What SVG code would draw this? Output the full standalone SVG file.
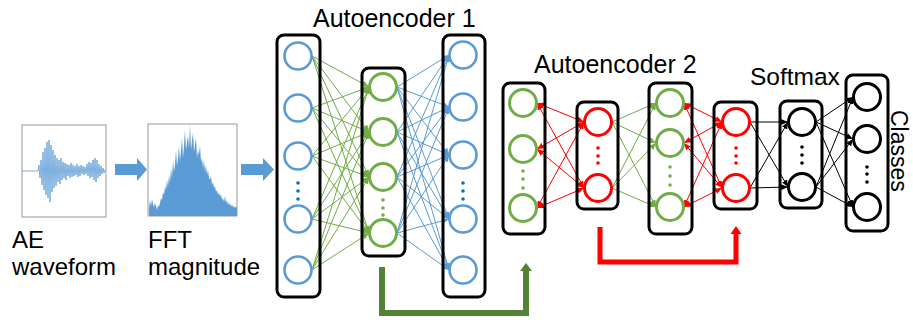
<svg xmlns="http://www.w3.org/2000/svg" width="913" height="320" viewBox="0 0 913 320">
<style>
text{font-family:"Liberation Sans",Arial,sans-serif;fill:#000}
.box{fill:none;stroke:#000;stroke-width:3}
.cb{fill:none;stroke:#5B9BD5;stroke-width:2.6}
.cg{fill:none;stroke:#70AD47;stroke-width:3}
.cr{fill:none;stroke:#FF0000;stroke-width:3}
.ck{fill:none;stroke:#000;stroke-width:3}
.lg{stroke:#70AD47;stroke-width:1;marker-end:url(#mg)}
.lb{stroke:#5B9BD5;stroke-width:1;marker-end:url(#mb)}
.lr{stroke:#FF0000;stroke-width:1;marker-end:url(#mr);marker-start:url(#mr)}
.lk{stroke:#000;stroke-width:1;marker-end:url(#mk)}
</style>
<defs>
<marker id="mg" markerUnits="userSpaceOnUse" markerWidth="7" markerHeight="6" refX="7" refY="3" orient="auto-start-reverse"><path d="M0,0 L7,3 L0,6 z" fill="#70AD47"/></marker>
<marker id="mb" markerUnits="userSpaceOnUse" markerWidth="7" markerHeight="6" refX="7" refY="3" orient="auto-start-reverse"><path d="M0,0 L7,3 L0,6 z" fill="#5B9BD5"/></marker>
<marker id="mr" markerUnits="userSpaceOnUse" markerWidth="7" markerHeight="6" refX="7" refY="3" orient="auto-start-reverse"><path d="M0,0 L7,3 L0,6 z" fill="#FF0000"/></marker>
<marker id="mk" markerUnits="userSpaceOnUse" markerWidth="7" markerHeight="6" refX="7" refY="3" orient="auto-start-reverse"><path d="M0,0 L7,3 L0,6 z" fill="#000"/></marker>
</defs>
<rect width="913" height="320" fill="#fff"/>

<g id="waveform">
<rect x="22" y="125" width="84" height="92" fill="#fff" stroke="#999" stroke-width="1"/>
<polyline fill="none" stroke="#5B9BD5" stroke-width="0.8" points="22,171 38,171 39,165 40,178 41,160 42,185 43,152 44,190 45,148 46,195 47,142 48,198 49,140 50,202 51,145 52,192 53,150 54,188 55,155 56,186 57,158 58,182 59,160 60,184 61,158 62,180 63,162 64,178 65,163 66,180 67,164 68,176 69,165 70,178 71,163 72,177 73,165 74,176 75,166 76,175 77,164 78,177 79,166 80,176 81,165 82,174 83,166 84,175 85,167 86,174 87,164 88,176 89,162 90,178 91,163 92,177 93,160 94,180 95,158 96,182 97,160 98,178 99,164 100,176 101,166 102,174 103,168 104,173 105,170 106,171"/>
<text x="12" y="248" font-size="24">AE</text>
<text x="12" y="275" font-size="24">waveform</text>
</g>

<g id="fft">
<rect x="148" y="124" width="89" height="92" fill="#fff" stroke="#999" stroke-width="1"/>
<polygon fill="#5B9BD5" points="149,216 149,208 150,200 151,206 152,199 153,204 154,207 155,203 156,206 157,210 158,205 159,207 160,203 161,198 162,200 163,192 164,195 165,186 166,190 167,180 168,187 169,175 170,183 171,168 172,178 173,160 174,172 175,165 176,150 177,166 178,158 179,146 180,162 181,150 182,138 183,158 184,145 185,130 186,150 187,142 188,136 189,148 190,124 191,150 192,140 193,133 194,152 195,145 196,138 197,158 198,150 199,155 200,145 201,162 202,158 203,168 204,160 205,172 206,165 207,175 208,170 209,178 210,180 211,176 212,185 213,182 214,188 215,186 216,192 217,190 218,195 219,192 220,197 221,194 222,200 223,198 224,202 225,196 226,203 227,200 228,205 229,202 230,206 231,204 232,207 233,205 234,208 235,206 236,208 237,207 237,216"/>
<text x="148" y="248" font-size="24">FFT</text>
<text x="148" y="275" font-size="24">magnitude</text>
</g>

<g id="connectors">
<polygon fill="#5B9BD5" points="115,164 137,164 137,158 147,169.5 137,181 137,175 115,175"/>
<polygon fill="#5B9BD5" points="241,164 263,164 263,158 274,169.5 263,181 263,175 241,175"/>
<g id="ae1-enc">
<line class="lg" x1="312" y1="56" x2="369" y2="87"/><line class="lg" x1="312" y1="56" x2="369" y2="132"/><line class="lg" x1="312" y1="56" x2="369" y2="177"/><line class="lg" x1="312" y1="56" x2="369" y2="233"/>
<line class="lg" x1="312" y1="108" x2="369" y2="87"/><line class="lg" x1="312" y1="108" x2="369" y2="132"/><line class="lg" x1="312" y1="108" x2="369" y2="177"/><line class="lg" x1="312" y1="108" x2="369" y2="233"/>
<line class="lg" x1="312" y1="156" x2="369" y2="87"/><line class="lg" x1="312" y1="156" x2="369" y2="132"/><line class="lg" x1="312" y1="156" x2="369" y2="177"/><line class="lg" x1="312" y1="156" x2="369" y2="233"/>
<line class="lg" x1="312" y1="219" x2="369" y2="87"/><line class="lg" x1="312" y1="219" x2="369" y2="132"/><line class="lg" x1="312" y1="219" x2="369" y2="177"/><line class="lg" x1="312" y1="219" x2="369" y2="233"/>
<line class="lg" x1="312" y1="270" x2="369" y2="87"/><line class="lg" x1="312" y1="270" x2="369" y2="132"/><line class="lg" x1="312" y1="270" x2="369" y2="177"/><line class="lg" x1="312" y1="270" x2="369" y2="233"/>
</g>
<g id="ae1-dec">
<line class="lb" x1="397" y1="87" x2="449" y2="55"/><line class="lb" x1="397" y1="87" x2="449" y2="107"/><line class="lb" x1="397" y1="87" x2="449" y2="155"/><line class="lb" x1="397" y1="87" x2="449" y2="219"/><line class="lb" x1="397" y1="87" x2="449" y2="270"/>
<line class="lb" x1="397" y1="132" x2="449" y2="55"/><line class="lb" x1="397" y1="132" x2="449" y2="107"/><line class="lb" x1="397" y1="132" x2="449" y2="155"/><line class="lb" x1="397" y1="132" x2="449" y2="219"/><line class="lb" x1="397" y1="132" x2="449" y2="270"/>
<line class="lb" x1="397" y1="177" x2="449" y2="55"/><line class="lb" x1="397" y1="177" x2="449" y2="107"/><line class="lb" x1="397" y1="177" x2="449" y2="155"/><line class="lb" x1="397" y1="177" x2="449" y2="219"/><line class="lb" x1="397" y1="177" x2="449" y2="270"/>
<line class="lb" x1="397" y1="233" x2="449" y2="55"/><line class="lb" x1="397" y1="233" x2="449" y2="107"/><line class="lb" x1="397" y1="233" x2="449" y2="155"/><line class="lb" x1="397" y1="233" x2="449" y2="219"/><line class="lb" x1="397" y1="233" x2="449" y2="270"/>
</g>
<g id="ae2-enc">
<line class="lr" x1="537" y1="103" x2="584" y2="122"/><line class="lr" x1="537" y1="103" x2="584" y2="188"/>
<line class="lr" x1="537" y1="149" x2="584" y2="122"/><line class="lr" x1="537" y1="149" x2="584" y2="188"/>
<line class="lr" x1="537" y1="208" x2="584" y2="122"/><line class="lr" x1="537" y1="208" x2="584" y2="188"/>
</g>
<g id="ae2-dec">
<line class="lg" x1="612" y1="122" x2="656" y2="103"/><line class="lg" x1="612" y1="122" x2="656" y2="143"/><line class="lg" x1="612" y1="122" x2="656" y2="207"/>
<line class="lg" x1="612" y1="188" x2="656" y2="103"/><line class="lg" x1="612" y1="188" x2="656" y2="143"/><line class="lg" x1="612" y1="188" x2="656" y2="207"/>
</g>
<g id="ae2-feat">
<line class="lr" x1="684" y1="103" x2="722" y2="122"/><line class="lr" x1="684" y1="103" x2="722" y2="188"/>
<line class="lr" x1="684" y1="143" x2="722" y2="122"/><line class="lr" x1="684" y1="143" x2="722" y2="188"/>
<line class="lr" x1="684" y1="207" x2="722" y2="122"/><line class="lr" x1="684" y1="207" x2="722" y2="188"/>
</g>
<g id="softmax-in">
<line class="lk" x1="750" y1="122" x2="788" y2="122"/><line class="lk" x1="750" y1="122" x2="788" y2="187"/>
<line class="lk" x1="750" y1="188" x2="788" y2="122"/><line class="lk" x1="750" y1="188" x2="788" y2="187"/>
</g>
<g id="softmax-out">
<line class="lk" x1="816" y1="122" x2="853" y2="97"/><line class="lk" x1="816" y1="122" x2="853" y2="139"/><line class="lk" x1="816" y1="122" x2="853" y2="207"/>
<line class="lk" x1="816" y1="187" x2="853" y2="97"/><line class="lk" x1="816" y1="187" x2="853" y2="139"/><line class="lk" x1="816" y1="187" x2="853" y2="207"/>
</g>
<g id="green-skip">
<path d="M382,267 V313 H526 V270" fill="none" stroke="#548235" stroke-width="6"/>
<polygon points="520,271 532,271 526,263" fill="#548235"/>
</g>
<g id="red-skip">
<path d="M600,227 V262 H736 V233" fill="none" stroke="#FF0000" stroke-width="5"/>
<polygon points="730.5,234 741.5,234 736,226" fill="#FF0000"/>
</g>
</g>

<g id="ae1-input">
<rect class="box" x="277" y="35" width="43" height="262" rx="7"/>
<circle class="cb" cx="298" cy="56" r="13.5"/><circle class="cb" cx="298" cy="108" r="13.5"/><circle class="cb" cx="298" cy="156" r="13.5"/><circle class="cb" cx="298" cy="219" r="13.5"/><circle class="cb" cx="298" cy="270" r="13.5"/>
<g fill="#0070C0"><circle cx="298" cy="183" r="1.8"/><circle cx="298" cy="191" r="1.8"/><circle cx="298" cy="199" r="1.8"/></g>
</g>
<g id="ae1-hidden">
<rect class="box" x="362" y="68" width="43" height="188" rx="7"/>
<circle class="cg" cx="383" cy="87" r="13.5"/><circle class="cg" cx="383" cy="132" r="13.5"/><circle class="cg" cx="383" cy="177" r="13.5"/><circle class="cg" cx="383" cy="233" r="13.5"/>
<g fill="#70AD47"><circle cx="383" cy="200" r="1.8"/><circle cx="383" cy="208" r="1.8"/><circle cx="383" cy="215" r="1.8"/></g>
</g>
<g id="ae1-output">
<rect class="box" x="443" y="35" width="42" height="262" rx="7"/>
<circle class="cb" cx="463" cy="55" r="13.5"/><circle class="cb" cx="463" cy="107" r="13.5"/><circle class="cb" cx="463" cy="155" r="13.5"/><circle class="cb" cx="463" cy="219" r="13.5"/><circle class="cb" cx="463" cy="270" r="13.5"/>
<g fill="#0070C0"><circle cx="463" cy="183" r="1.8"/><circle cx="463" cy="191" r="1.8"/><circle cx="463" cy="199" r="1.8"/></g>
</g>
<text id="title-ae1" x="313" y="27" font-size="25">Autoencoder 1</text>

<g id="ae2-input">
<rect class="box" x="503" y="83" width="42" height="151" rx="7"/>
<circle class="cg" cx="523" cy="103" r="13.5"/><circle class="cg" cx="523" cy="149" r="13.5"/><circle class="cg" cx="523" cy="208" r="13.5"/>
<g fill="#70AD47"><circle cx="523" cy="171" r="1.8"/><circle cx="523" cy="179" r="1.8"/><circle cx="523" cy="188" r="1.8"/></g>
</g>
<g id="ae2-hidden">
<rect class="box" x="577" y="102" width="41" height="107" rx="7"/>
<circle class="cr" cx="598" cy="122" r="13.5"/><circle class="cr" cx="598" cy="188" r="13.5"/>
<g fill="#FF0000"><circle cx="598" cy="148" r="1.8"/><circle cx="598" cy="156" r="1.8"/><circle cx="598" cy="163" r="1.8"/></g>
</g>
<g id="ae2-output">
<rect class="box" x="649" y="83" width="43" height="151" rx="7"/>
<circle class="cg" cx="670" cy="103" r="13.5"/><circle class="cg" cx="670" cy="143" r="13.5"/><circle class="cg" cx="670" cy="207" r="13.5"/>
<g fill="#70AD47"><circle cx="670" cy="167" r="1.8"/><circle cx="670" cy="176" r="1.8"/><circle cx="670" cy="185" r="1.8"/></g>
</g>
<g id="ae2-features">
<rect class="box" x="714" y="102" width="43" height="107" rx="7"/>
<circle class="cr" cx="736" cy="122" r="13.5"/><circle class="cr" cx="736" cy="188" r="13.5"/>
<g fill="#FF0000"><circle cx="736" cy="148" r="1.8"/><circle cx="736" cy="156" r="1.8"/><circle cx="736" cy="163" r="1.8"/></g>
</g>
<text id="title-ae2" x="534" y="73" font-size="25">Autoencoder 2</text>

<g id="softmax">
<rect class="box" x="780" y="101" width="42" height="107" rx="7"/>
<circle class="ck" cx="802" cy="122" r="13.5"/><circle class="ck" cx="802" cy="187" r="13.5"/>
<g fill="#000"><circle cx="802" cy="147" r="1.8"/><circle cx="802" cy="155" r="1.8"/><circle cx="802" cy="163" r="1.8"/></g>
<text x="750" y="85" font-size="24.5">Softmax</text>
</g>
<g id="classes">
<rect class="box" x="846" y="75" width="42" height="156" rx="7"/>
<circle class="ck" cx="867" cy="97" r="13.5"/><circle class="ck" cx="867" cy="139" r="13.5"/><circle class="ck" cx="867" cy="207" r="13.5"/>
<g fill="#000"><circle cx="867" cy="167" r="1.8"/><circle cx="867" cy="174" r="1.8"/><circle cx="867" cy="182" r="1.8"/></g>
<text transform="translate(891,110) rotate(90)" font-size="23">Classes</text>
</g>
</svg>
